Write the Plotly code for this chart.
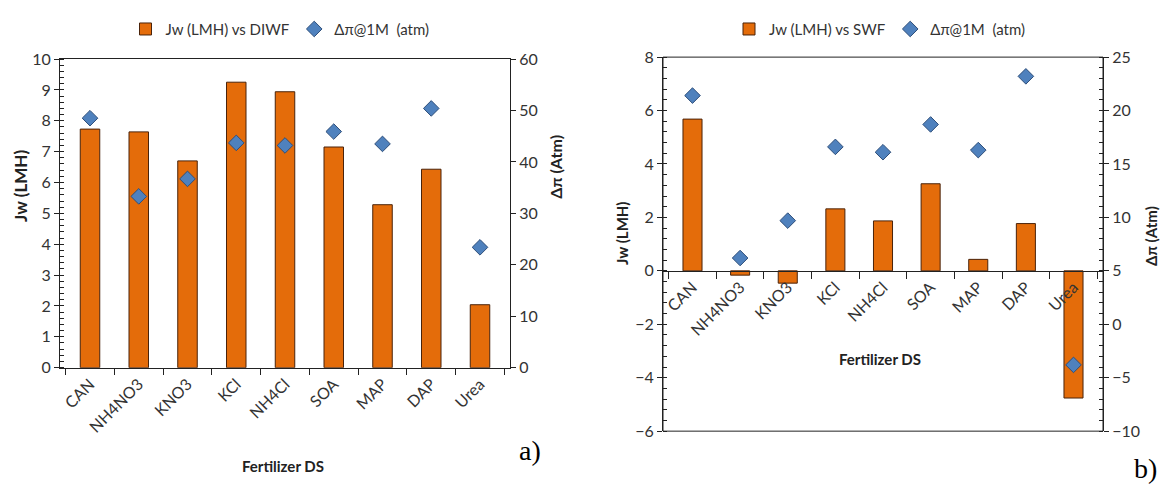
import plotly.graph_objects as go

categories = ["CAN", "NH4NO3", "KNO3", "KCl", "NH4Cl", "SOA", "MAP", "DAP", "Urea"]
jw_diwf = [7.73, 7.64, 6.70, 9.25, 8.94, 7.15, 5.28, 6.43, 2.04]
dpi_a = [48.5, 33.3, 36.7, 43.7, 43.2, 45.9, 43.5, 50.4, 23.4]
jw_swf = [5.68, -0.16, -0.46, 2.32, 1.87, 3.26, 0.43, 1.77, -4.76]
dpi_b = [21.4, 6.2, 9.7, 16.6, 16.1, 18.7, 16.3, 23.2, -3.8]

W, H = 1170, 494
ORANGE = "#E46C0A"
BAR_LINE = "#4a230a"
BLUE = "#4F81BD"
BLUE_LINE = "#2f4f7a"
FONT = "Lato"
TXT = "#222222"

def px_x(p):
    return p / W

def px_y(p):
    return 1 - p / H

# panel domains (pixels -> paper)
a_x = [px_x(60), px_x(510)]
a_y = [px_y(372), px_y(51)]
b_x = [px_x(663), px_x(1103)]
b_y = [px_y(438), px_y(49)]
b_ymin, b_ymax = -6, 8
zero_pos = b_y[0] + (0 - b_ymin) / (b_ymax - b_ymin) * (b_y[1] - b_y[0])

fig = go.Figure()
fig.add_trace(go.Bar(x=categories, y=jw_diwf, name="Jw (LMH) vs DIWF", xaxis="x", yaxis="y",
                     marker=dict(color=ORANGE, line=dict(color=BAR_LINE, width=1)), width=0.4,
                     legend="legend"))
fig.add_trace(go.Scatter(x=categories, y=dpi_a, name="Δπ@1M  (atm)", mode="markers", xaxis="x", yaxis="y2",
                         marker=dict(symbol="diamond", size=12, color=BLUE, line=dict(color=BLUE_LINE, width=1)),
                         legend="legend"))
fig.add_trace(go.Bar(x=categories, y=jw_swf, name="Jw (LMH) vs SWF", xaxis="x2", yaxis="y3",
                     marker=dict(color=ORANGE, line=dict(color=BAR_LINE, width=1)), width=0.4,
                     legend="legend2"))
fig.add_trace(go.Scatter(x=categories, y=dpi_b, name="Δπ@1M  (atm)", mode="markers", xaxis="x2", yaxis="y4",
                         marker=dict(symbol="diamond", size=12, color=BLUE, line=dict(color=BLUE_LINE, width=1)),
                         legend="legend2"))

tickfont = dict(family=FONT, size=16, color="#333333")
axline = dict(showline=True, linecolor="#222222", linewidth=1, showgrid=False, zeroline=False)

fig.update_layout(
    width=W, height=H,
    margin=dict(l=0, r=0, t=0, b=0),
    paper_bgcolor="white", plot_bgcolor="white",
    font=dict(family=FONT, color=TXT),
    showlegend=True,
    xaxis=dict(domain=a_x, anchor="y", tickangle=-45, tickfont=tickfont, tickson="boundaries",
               ticks="outside", ticklen=6, tickcolor="#222222", mirror=True, **axline),
    yaxis=dict(domain=a_y, anchor="x", range=[0, 10], dtick=1, tickfont=tickfont,
               ticks="outside", ticklen=5, tickcolor="#222222",
               minor=dict(ticks="inside", dtick=0.2, ticklen=4, tickcolor="#222222"), **axline),
    yaxis2=dict(anchor="x", overlaying="y", side="right", range=[0, 60], dtick=10, tickfont=tickfont,
                ticks="outside", ticklen=5, tickcolor="#222222", **axline),
    xaxis2=dict(domain=b_x, anchor="free", position=zero_pos, tickangle=-45, tickfont=tickfont,
                tickson="boundaries", ticks="outside", ticklen=7, tickcolor="#222222", **axline),
    yaxis3=dict(domain=b_y, anchor="x2", range=[b_ymin, b_ymax], dtick=2, tickfont=tickfont,
                ticks="outside", ticklen=5, tickcolor="#222222",
                minor=dict(ticks="inside", dtick=0.4, ticklen=4, tickcolor="#222222"), **axline),
    yaxis4=dict(anchor="x2", overlaying="y3", side="right", range=[-10, 25], dtick=5, tickfont=tickfont,
                ticks="outside", ticklen=5, tickcolor="#222222",
                minor=dict(ticks="inside", dtick=1, ticklen=4, tickcolor="#222222"), **axline),
    legend=dict(orientation="h", x=px_x(280), xanchor="center", y=px_y(20), yanchor="middle",
                font=dict(family=FONT, size=15, color="#333333"), bgcolor="rgba(0,0,0,0)",
                itemwidth=30, tracegroupgap=0),
    legend2=dict(orientation="h", x=px_x(880), xanchor="center", y=px_y(20), yanchor="middle",
                 font=dict(family=FONT, size=15, color="#333333"), bgcolor="rgba(0,0,0,0)",
                 itemwidth=30, tracegroupgap=0),
)

# frame for panel b
fig.add_shape(type="rect", xref="x2 domain", yref="y3 domain", x0=0, x1=1, y0=0, y1=1,
              line=dict(color="#222222", width=1), fillcolor="rgba(0,0,0,0)", layer="above")

def tf(size):
    return dict(family=FONT, size=size, color="#222222")

ann = [
    dict(text="<b>Fertilizer DS</b>", x=px_x(283), y=px_y(474), font=tf(15)),
    dict(text="<b>Jw (LMH)</b>", x=px_x(21), y=px_y(183), textangle=-90, font=tf(17)),
    dict(text="<b>Δπ (Atm)</b>", x=px_x(556), y=px_y(163), textangle=-90, font=tf(16)),
    dict(text="<b>Fertilizer DS</b>", x=px_x(880), y=px_y(363), font=tf(15)),
    dict(text="<b>Jw (LMH)</b>", x=px_x(622), y=px_y(232), textangle=-90, font=tf(15)),
    dict(text="<b>Δπ (Atm)</b>", x=px_x(1151), y=px_y(235), textangle=-90, font=tf(15)),
    dict(text="a)", x=px_x(530), y=px_y(458), font=dict(family="Liberation Serif", size=28, color="black")),
    dict(text="b)", x=px_x(1145), y=px_y(477), font=dict(family="Liberation Serif", size=28, color="black")),
]
for a in ann:
    fig.add_annotation(xref="paper", yref="paper", showarrow=False, xanchor="center", yanchor="middle", **a)

fig.write_html("out.html", config={"displayModeBar": False},
               post_script="document.body.style.margin='0';document.body.style.overflow='hidden';")
